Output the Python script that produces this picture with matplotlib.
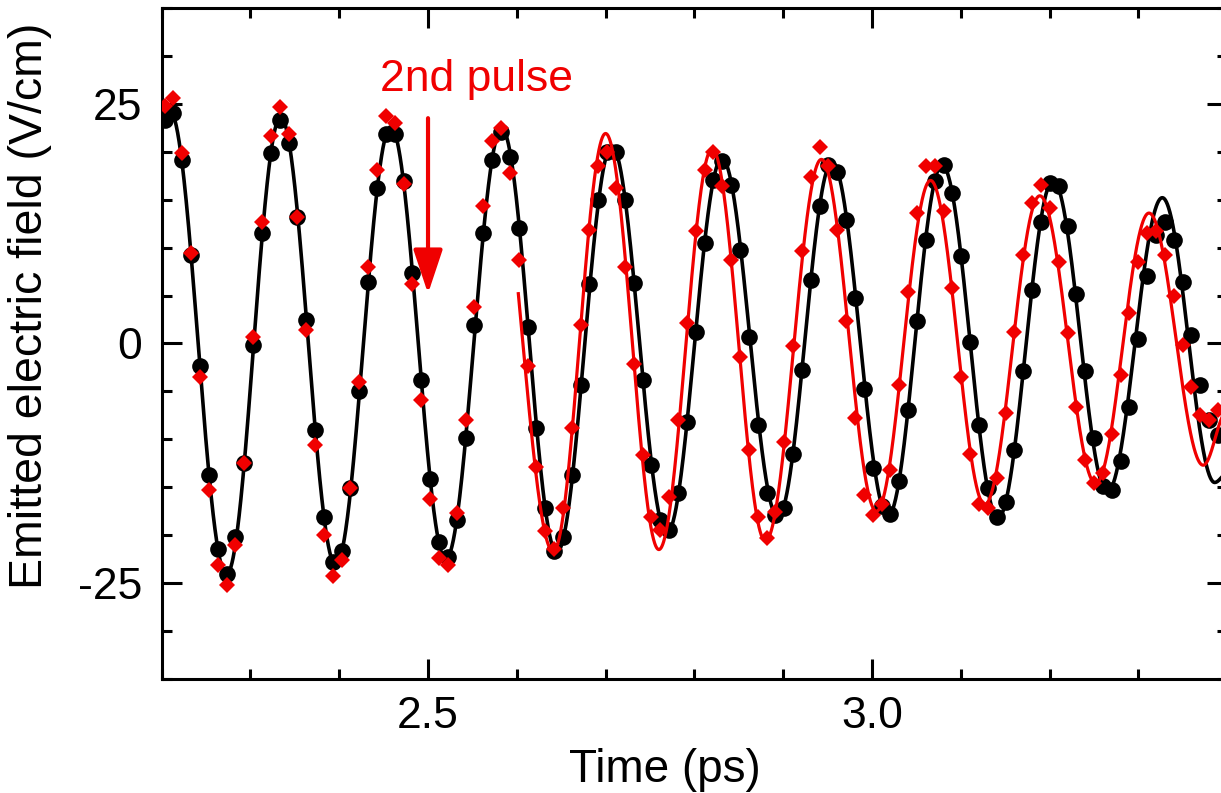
import numpy as np
import matplotlib.pyplot as plt
from matplotlib.ticker import MultipleLocator

plt.rcParams['font.family'] = ['Liberation Sans', 'DejaVu Sans']
plt.rcParams['axes.unicode_minus'] = False

RED = '#f00000'

# scan sampling (ps): uniform delay steps
t_start = 2.2033
t_step = 0.00997

# measured field, one value per delay step (V/cm)
black_pts = [23.3, 24.0, 19.15, 9.2, -2.4, -13.7, -21.4, -24.0, -20.2, -12.5,
             -0.2, 11.5, 19.85, 23.3, 20.9, 13.2, 2.45, -9.0, -18.1, -22.8,
             -21.6, -15.1, -5.0, 6.45, 16.2, 21.8, 21.9, 16.9, 7.3, -3.8,
             -14.1, -20.7, -22.3, -18.4, -9.9, 1.9, 11.5, 19.15, 22.1, 19.5,
             12.0, 1.75, -8.85, -17.2, -21.6, -20.2, -13.7, -4.3, 6.2, 15.0,
             20.0, 20.0, 15.0, 6.3, -3.8, -12.7, -18.4, -19.5, -15.6, -8.2,
             1.2, 10.5, 17.1, 19.05, 16.5, 9.8, 0.7, -8.5, -15.6, -17.9,
             -17.2, -11.5, -2.8, 6.6, 14.3, 18.6, 17.9, 12.9, 4.7, -4.7,
             -13.0, -17.0, -17.8, -14.4, -6.9, 2.3, 10.8, 16.9, 18.6, 15.7,
             9.1, 0.2, -8.5, -15.1, -18.1, -16.5, -11.1, -2.9, 5.6, 12.7,
             16.7, 16.4, 12.2, 5.2, -2.9, -9.9, -14.9, -15.3, -12.3, -6.6,
             0.5, 7.0, 11.3, 12.7, 10.8, 6.45, 0.9, -4.3, -8.0, -9.6]

red_pts = [24.8, 25.6, 19.85, 9.4, -3.5, -15.3, -23.1, -25.2, -21.0, -12.5,
           0.7, 12.7, 21.6, 24.7, 21.8, 13.2, 1.4, -10.6, -20.0, -24.3,
           -22.6, -15.1, -4.0, 8.0, 18.1, 23.7, 23.0, 16.6, 6.2, -5.9,
           -16.2, -22.4, -23.1, -17.7, -8.0, 3.8, 14.3, 21.1, 22.5, 17.8,
           8.7, -2.4, -12.9, -19.6, -21.4, -17.2, -8.85, 1.9, 11.8, 18.5,
           20.0, 16.2, 8.0, -2.1, -11.6, -18.1, -19.5, -16.0, -8.0, 2.1,
           11.7, 18.1, 20.0, 16.4, 8.7, -1.4, -11.1, -18.1, -20.3, -17.6,
           -10.25, -0.3, 9.6, 17.4, 20.5, 18.5, 11.8, 2.3, -7.8, -15.8,
           -17.9, -16.8, -13.2, -4.3, 5.4, 13.6, 18.5, 18.5, 13.8, 5.8,
           -3.5, -11.5, -16.7, -17.2, -14.0, -7.3, 1.2, 9.2, 14.6, 16.5,
           14.1, 8.5, 1.1, -6.6, -12.2, -14.6, -13.5, -9.4, -3.3, 3.15,
           8.5, 11.5, 11.7, 9.2, 4.9, -0.2, -4.5, -7.5, -8.0, -6.9]

time = t_start + t_step * np.arange(len(red_pts))

# fitted curves: turning points (ps, V/cm)
black_fit_t = [2.200, 2.209, 2.273, 2.334, 2.396, 2.458, 2.520, 2.583, 2.645,
               2.707, 2.769, 2.831, 2.894, 2.955, 3.018, 3.079, 3.142, 3.204,
               3.265, 3.327, 3.386, 3.400]
black_fit_e = [23.0, 24.3, -24.1, 23.6, -23.1, 22.6, -22.5, 22.4, -21.8,
               20.6, -19.8, 19.3, -18.1, 18.9, -18.0, 18.6, -18.2, 17.0,
               -15.5, 15.2, -14.5, -13.6]

red_fit_t = [2.572, 2.641, 2.700, 2.760, 2.820, 2.880, 2.943, 3.005, 3.066,
             3.127, 3.189, 3.252, 3.312, 3.373, 3.400]
red_fit_e = [22.5, -21.7, 21.9, -21.5, 20.3, -20.6, 19.2, -17.5, 17.0,
             -16.8, 15.4, -14.6, 13.6, -12.7, -7.1]
red_fit_start = 2.6017


def fit_curve(tk, ek, t_from, t_to, n=3000):
    tk = np.asarray(tk)
    ek = np.asarray(ek)
    t = np.linspace(t_from, t_to, n)
    i = np.clip(np.searchsorted(tk, t) - 1, 0, len(tk) - 2)
    s = (t - tk[i]) / (tk[i + 1] - tk[i])
    e = ek[i] + (ek[i + 1] - ek[i]) * (1 - np.cos(np.pi * s)) / 2
    return t, e


fig = plt.figure(figsize=(12.21, 7.93), dpi=100)
ax = fig.add_axes([0.1324, 0.1438, 0.8726, 0.8462])

bt, be = fit_curve(black_fit_t, black_fit_e, 2.2, 3.4)
rt, re = fit_curve(red_fit_t, red_fit_e, red_fit_start, 3.4)

ax.plot(bt, be, color='black', lw=2.6, zorder=2)
ax.plot(time, black_pts, 'o', color='black', ms=12, mew=0, zorder=3)
ax.plot(rt, re, color=RED, lw=2.3, zorder=4)
ax.plot(time, red_pts, 'D', color=RED, ms=8.3, mew=0, zorder=5)

# 2nd pulse marker
ax.annotate('', xy=(2.5, 5.2), xytext=(2.5, 23.5),
            arrowprops=dict(arrowstyle='-|>,head_length=1.35,head_width=0.45',
                            color=RED, lw=3, mutation_scale=20,
                            shrinkA=0, shrinkB=0), zorder=6)
ax.text(2.446, 26.3, '2nd pulse', color=RED, fontsize=32,
        ha='left', va='baseline')

ax.set_xlim(2.2, 3.4)
ax.set_ylim(-35, 35)
ax.xaxis.set_major_locator(MultipleLocator(0.5))
ax.xaxis.set_minor_locator(MultipleLocator(0.1))
ax.yaxis.set_major_locator(MultipleLocator(25))
ax.yaxis.set_minor_locator(MultipleLocator(5))
ax.xaxis.set_major_formatter(plt.FuncFormatter(lambda v, p: f'{v:.1f}'))
ax.yaxis.set_major_formatter(plt.FuncFormatter(lambda v, p: f'{v:.0f}'))

ax.tick_params(which='both', direction='in', top=True, right=True,
               width=2.2, labelsize=32)
ax.tick_params(which='major', length=14.5)
ax.tick_params(which='minor', length=7.5)
ax.tick_params(axis='x', pad=12)
ax.tick_params(axis='y', pad=14)
for sp in ax.spines.values():
    sp.set_linewidth(2.2)

fig.text(665 / 1221, 11 / 793, 'Time (ps)', fontsize=33,
         ha='center', va='baseline')
fig.text(30 / 1221, (793 - 306) / 793, 'Emitted electric field (V/cm)',
         fontsize=33.5, rotation=90, ha='center', va='center')

fig.savefig('out.png', dpi=100)
